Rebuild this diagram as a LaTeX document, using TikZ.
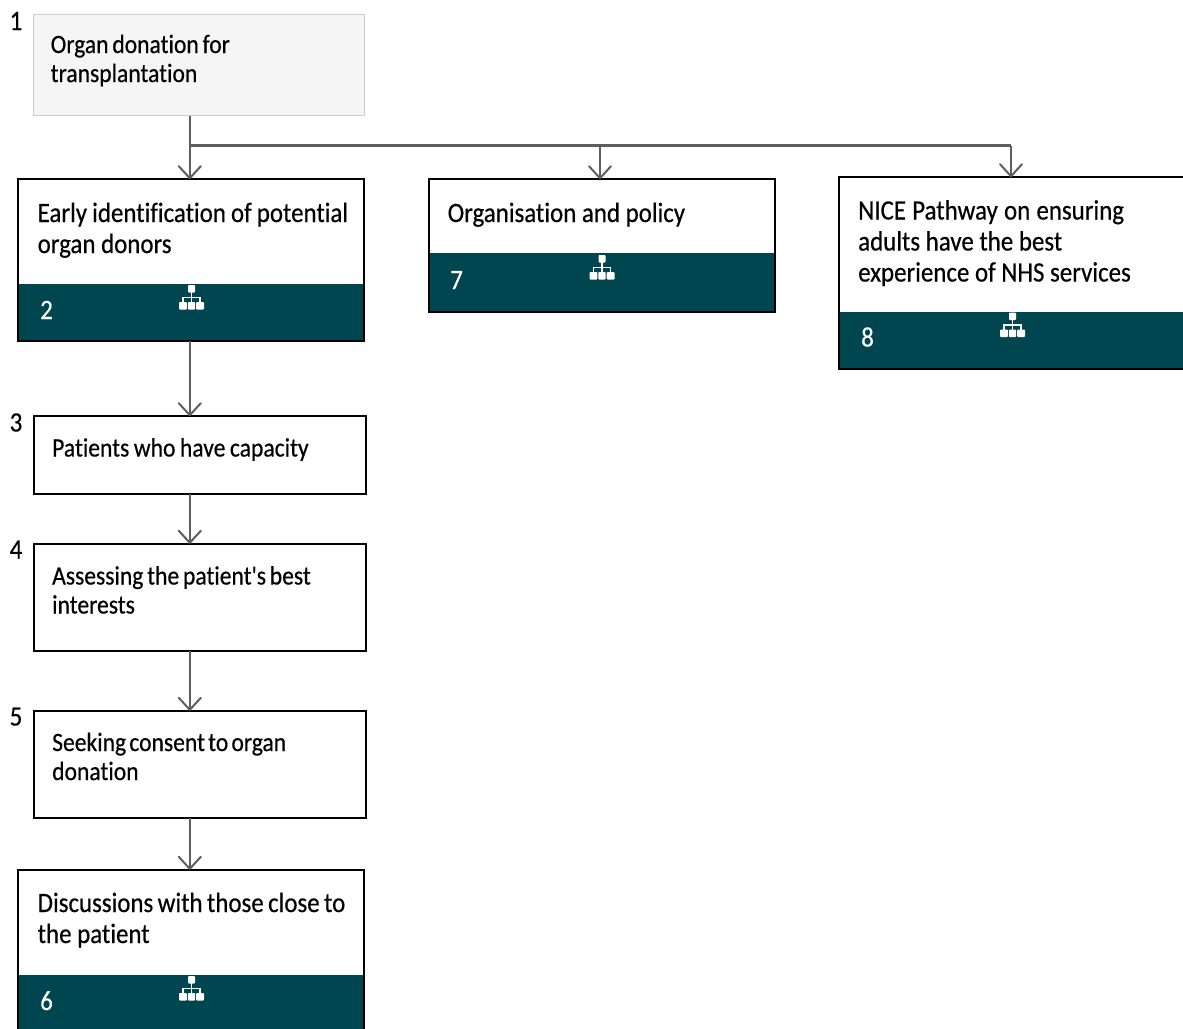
\documentclass[tikz,border=0pt]{standalone}
\usepackage{fontspec}
\newfontfamily\cf[FakeStretch=0.89,FakeBold=0.45,Ligatures=NoCommon]{Carlito}
\usetikzlibrary{arrows.meta}
\definecolor{teal}{HTML}{004650}
\definecolor{linec}{HTML}{5E5E5E}
\newcommand{\bigtxt}{\cf\fontsize{28}{31}\selectfont}
\newcommand{\midtxt}{\cf\fontsize{26.5}{29}\selectfont\spaceskip=3.8pt\relax}
\newcommand{\numtxt}{\cf\fontsize{28}{28}\selectfont}
\tikzset{
  x=1pt,y=-1pt,
  boxbase/.style={rectangle,inner sep=0pt,outer sep=0pt,anchor=north west},
  plainbox/.style={boxbase,draw=black,line width=2pt,fill=white},
  rootbox/.style={boxbase,draw=black!20,line width=1pt,fill=black!4},
  bandbox/.style={boxbase,fill=teal},
  bigt/.style={anchor=base west,inner sep=0pt,align=left,font=\bigtxt,text=black},
  midt/.style={anchor=base west,inner sep=0pt,align=left,font=\midtxt,text=black},
  numt/.style={anchor=base west,inner sep=0pt,font=\numtxt,text=black},
  wnum/.style={anchor=base west,inner sep=0pt,font=\numtxt,text=white},
  conn/.style={draw=linec,line width=2.2pt},
  arr/.style={conn,-{Straight Barb[length=12pt,width=22pt,line width=2pt,round]}},
  iconpart/.style={fill=white,draw=none,rounded corners=0.8pt},
}
\newcommand{\hier}[2]{%
  \begin{scope}[shift={(#1,#2)}]
    \draw[white,line width=1.5pt] (0,6)--(0,18) (-8.5,18)--(-8.5,12.5)--(8.5,12.5)--(8.5,18);
    \fill[iconpart] (-3.5,0) rectangle (3.5,7.5);
    \fill[iconpart] (-12.5,17) rectangle (-4.7,24.5);
    \fill[iconpart] (-3.7,17) rectangle (3.7,24.5);
    \fill[iconpart] (4.7,17) rectangle (12.5,24.5);
  \end{scope}}
\begin{document}
\begin{tikzpicture}
\useasboundingbox (0,0) rectangle (1183,1028);
\clip (0,0) rectangle (1183,1028);
\coordinate (trunk) at (189.8,0);
\coordinate (mid) at (600,0);
\coordinate (right) at (1011,0);
\coordinate (branch) at (0,145.5);
% boxes
\node[rootbox,minimum width=331pt,minimum height=101pt] (n1) at (33.5,14.5) {};
\node[plainbox,minimum width=346pt,minimum height=162pt] (n2) at (18.2,179.2) {};
\node[plainbox,minimum width=346pt,minimum height=132.5pt] (n7) at (428.7,179.2) {};
\node[plainbox,minimum width=360pt,minimum height=191.5pt] (n8) at (838.7,177.2) {};
\node[plainbox,minimum width=332.5pt,minimum height=77.5pt] (n3) at (33.7,416.2) {};
\node[plainbox,minimum width=332.5pt,minimum height=107.5pt] (n4) at (33.7,543.8) {};
\node[plainbox,minimum width=332.5pt,minimum height=107pt] (n5) at (33.7,710.8) {};
\node[plainbox,minimum width=346pt,minimum height=180pt] (n6) at (18.2,869.8) {};
% bands
\node[bandbox,minimum width=344pt,minimum height=56.2pt] (b2) at (19.2,284) {};
\node[bandbox,minimum width=344pt,minimum height=58.2pt] (b7) at (429.7,253) {};
\node[bandbox,minimum width=358pt,minimum height=56pt] (b8) at (839.7,312) {};
\node[bandbox,minimum width=344pt,minimum height=60pt] (b6) at (19.2,975) {};
% connectors
\draw[arr] (n1.south -| trunk) -- (n2.north -| trunk);
\draw[conn] (branch -| trunk) -- (branch -| right);
\draw[arr] (branch -| mid) -- (n7.north -| mid);
\draw[arr] (branch -| right) -- (n8.north -| right);
\draw[arr] (n2.south -| trunk) -- (n3.north -| trunk);
\draw[arr] (n3.south -| trunk) -- (n4.north -| trunk);
\draw[arr] (n4.south -| trunk) -- (n5.north -| trunk);
\draw[arr] (n5.south -| trunk) -- (n6.north -| trunk);
% text (a multi-line node sits on its last baseline)
\node[midt] (t1) at (50.5,82) {Organ donation for\\transplantation};
\node[bigt] (t2) at (37.5,253) {\spaceskip=5.1pt\relax Early identification of potential\\organ donors};
\node[bigt] (t7) at (447.5,222) {Organisation and policy};
\node[bigt] (t8) at (858,281.5) {\spaceskip=6.2pt\relax NICE Pathway on ensuring\\adults have the best\\experience of NHS services};
\node[midt] (t3) at (52,456.5) {\spaceskip=4.5pt\relax Patients who have capacity};
\node[midt] (t4) at (52,613.5) {Assessing the patient's best\\interests};
\node[midt] (t5) at (52,780) {\spaceskip=3.2pt\relax Seeking consent to organ\\donation};
\node[bigt] (t6) at (37.5,943) {\spaceskip=4.4pt\relax Discussions with those close to\\the patient};
% numbers
\node[numt] (l1) at (9.5,30) {1};
\node[numt] (l3) at (9.5,431.5) {3};
\node[numt] (l4) at (9.5,558.5) {4};
\node[numt] (l5) at (9.5,725.5) {5};
\node[wnum] (l2) at (40,319) {2};
\node[wnum] (l7) at (450,289) {7};
\node[wnum] (l8) at (861,346.5) {8};
\node[wnum] (l6) at (40,1010) {6};
% icons
\hier{191.5}{285}
\hier{602}{255}
\hier{1012.5}{312.5}
\hier{191.5}{976}
\end{tikzpicture}
\end{document}
